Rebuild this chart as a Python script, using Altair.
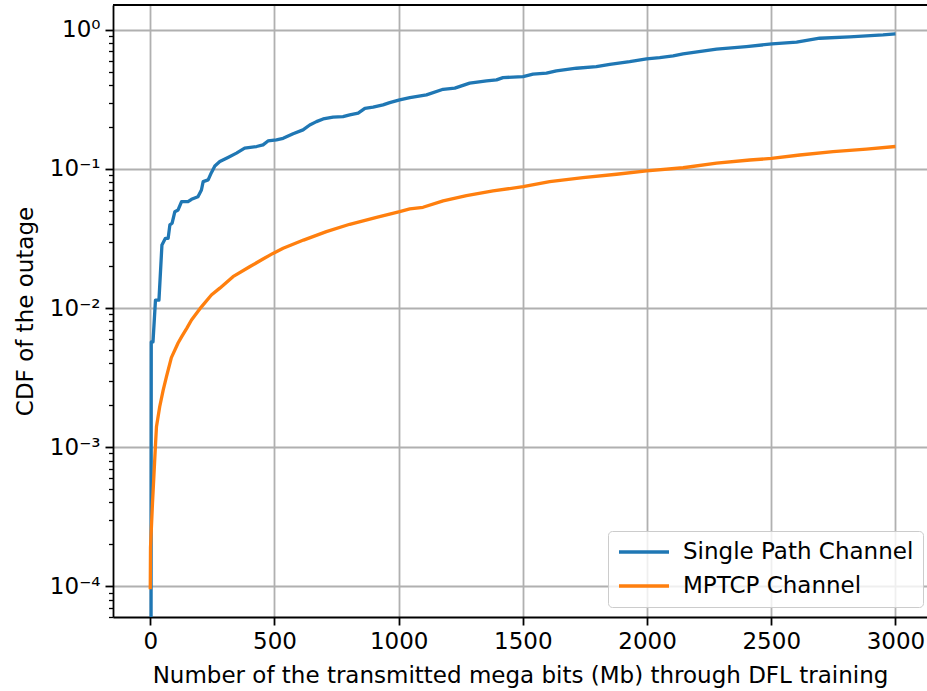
import altair as alt
import pandas as pd

# Transmitted volume (Mb) and outage CDF for the single-path link
single_x = [3, 4, 11, 21, 35, 47, 61, 72, 79, 88, 99, 112, 126, 152, 166, 192,
            206, 213, 233, 246, 260, 280, 313, 347, 380, 428, 454, 474, 508,
            535, 575, 615, 642, 669, 696, 736, 776, 803, 837, 864, 897, 937,
            964, 1004, 1045, 1112, 1179, 1226, 1286, 1354, 1394, 1420, 1501,
            1541, 1595, 1635, 1716, 1796, 1850, 1930, 1998, 2051, 2105, 2145,
            2280, 2400, 2503, 2602, 2695, 2816, 2950, 3000]
single_cdf = [1e-5, 0.0057, 0.0057, 0.0114, 0.0114, 0.0284, 0.0317, 0.0317,
              0.0396, 0.0407, 0.0493, 0.0507, 0.0582, 0.0582, 0.0605, 0.0632,
              0.0706, 0.0811, 0.0834, 0.094, 0.105, 0.113, 0.121, 0.130,
              0.141, 0.145, 0.149, 0.159, 0.162, 0.166, 0.179, 0.191, 0.207,
              0.219, 0.229, 0.236, 0.238, 0.245, 0.252, 0.273, 0.278, 0.289,
              0.300, 0.314, 0.326, 0.341, 0.374, 0.381, 0.414, 0.430, 0.437,
              0.454, 0.461, 0.480, 0.488, 0.507, 0.530, 0.544, 0.566, 0.591,
              0.618, 0.632, 0.650, 0.672, 0.726, 0.758, 0.793, 0.816, 0.871,
              0.891, 0.920, 0.936]

# Transmitted volume (Mb) and outage CDF for the MPTCP link
mptcp_x = [0, 1, 9, 22, 25, 38, 52, 65, 85, 112, 126, 148, 166, 206, 246, 280,
           333, 400, 454, 494, 535, 617, 709, 803, 911, 1004, 1045, 1098, 1179,
           1273, 1380, 1501, 1608, 1742, 1877, 1998, 2145, 2280, 2414, 2501,
           2615, 2749, 2883, 3000]
mptcp_cdf = [9.5e-5, 1.9e-4, 3.95e-4, 1.12e-3, 1.40e-3, 1.95e-3, 2.57e-3,
             3.2e-3, 4.4e-3, 5.6e-3, 6.2e-3, 7.2e-3, 8.2e-3, 0.0102, 0.0124,
             0.0139, 0.0168, 0.0198, 0.0225, 0.0247, 0.0269, 0.0308, 0.0354,
             0.040, 0.0449, 0.0493, 0.0516, 0.053, 0.0589, 0.0643, 0.0695,
             0.0746, 0.0811, 0.0866, 0.0916, 0.0968, 0.102, 0.110, 0.116,
             0.119, 0.126, 0.133, 0.139, 0.145]

series_names = ["Single Path Channel", "MPTCP Channel"]
series_colors = ["#1f77b4", "#ff7f0e"]
x_ticks = [0, 500, 1000, 1500, 2000, 2500, 3000]

FONT = "DejaVu Sans"
FS = 23

frames = []
for name, xs, ys in [(series_names[0], single_x, single_cdf),
                     (series_names[1], mptcp_x, mptcp_cdf)]:
    frames.append(pd.DataFrame({"mb": xs, "cdf": ys, "series": name,
                                "idx": range(len(xs))}))
df = pd.concat(frames, ignore_index=True)

# major/minor ticks for the log axis
y_ticks = [m * 10.0 ** e for e in range(-5, 1) for m in range(1, 10)]
y_ticks = [v for v in y_ticks if 6e-5 <= v <= 1.5]

IS_MAJOR = "abs(log(datum.value)/LN10 - round(log(datum.value)/LN10)) < 0.001"
LABEL = ("(" + IS_MAJOR + ") ? ['10\u207b\u2074','10\u207b\u00b3','10\u207b\u00b2',"
         "'10\u207b\u00b9','10\u2070'][round(log(datum.value)/LN10)+4] : ''")

lines = alt.Chart(df).mark_line(clip=True, strokeWidth=3.3, strokeJoin="round").encode(
    x=alt.X("mb:Q",
            scale=alt.Scale(domain=[-150, 3127], nice=False, zero=False),
            axis=alt.Axis(values=x_ticks, format="d", tickSize=8, labelPadding=5,
                          titleY=65, titleBaseline="alphabetic"),
            title="Number of the transmitted mega bits (Mb) through DFL training"),
    y=alt.Y("cdf:Q",
            scale=alt.Scale(type="log", domain=[6e-5, 1.51], nice=False),
            axis=alt.Axis(values=y_ticks, labelExpr=LABEL, labelOverlap=False,
                          labelPadding=5,
                          gridOpacity={"condition": {"test": IS_MAJOR, "value": 1}, "value": 0},
                          tickSize={"condition": {"test": IS_MAJOR, "value": 8}, "value": 4.5},
                          tickWidth={"condition": {"test": IS_MAJOR, "value": 1.8}, "value": 1.3},
                          titleX=-81, titleBaseline="alphabetic"),
            title="CDF of the outage"),
    color=alt.Color("series:N",
                    scale=alt.Scale(domain=series_names, range=series_colors),
                    legend=alt.Legend(title=None, orient="none", legendX=495, legendY=526,
                                      symbolType="M-1,0H4", symbolSize=400,
                                      symbolStrokeWidth=3.3, labelOffset=42,
                                      labelFontSize=FS, labelFont=FONT, labelLimit=0,
                                      labelColor="black", rowPadding=10,
                                      padding=9, fillColor="rgba(255,255,255,0.8)",
                                      strokeColor="#cccccc", cornerRadius=4)),
    order="idx:Q",
)

# top border of the plot frame
top_edge = alt.Chart(pd.DataFrame({"k": [0]})).mark_rule(
    color="black", strokeWidth=1.8).encode(
    x=alt.value(0), x2=alt.value(814), y=alt.value(0))

chart = alt.layer(lines, top_edge).properties(
    width=814, height=612,
    padding={"left": 113, "top": 5, "right": 0, "bottom": 74},
    autosize=alt.AutoSizeParams(type="none"),
).configure_view(stroke=None).configure_axis(
    labelFont=FONT, titleFont=FONT, labelFontSize=FS, titleFontSize=FS,
    titleFontWeight="normal", labelColor="black", titleColor="black",
    domainColor="black", domainWidth=1.8, tickColor="black", tickWidth=1.8,
    gridColor="#b0b0b0", gridWidth=1.8,
)

chart.save("out.html", embed_options={"renderer": "svg", "actions": False})
